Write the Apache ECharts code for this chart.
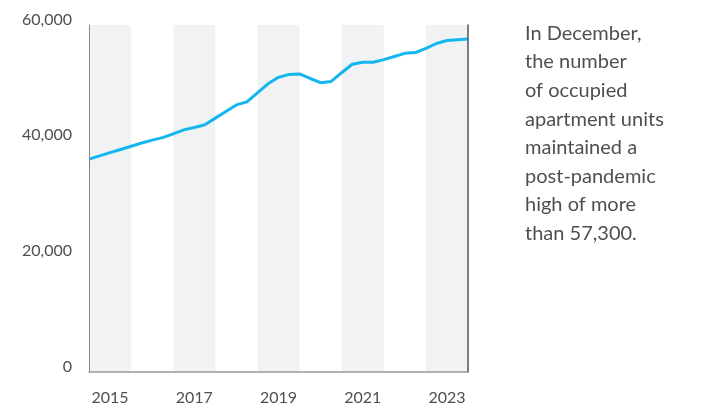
<!DOCTYPE html>
<html>
<head>
<meta charset="utf-8">
<script src="https://cdn.jsdelivr.net/npm/echarts@6/dist/echarts.min.js"></script>
<style>
html,body{margin:0;padding:0;background:#fff;}
#chart{width:707px;height:409px;}
</style>
</head>
<body>
<div id="chart"></div>
<script>
// Quarterly time positions (decimal years) and occupied apartment units
var quarters = [];
for (var i = 0; i <= 36; i++) quarters.push(2015 + i * 0.25);
var units = [36810, 37370, 37930, 38480, 39040, 39590, 40100, 40520, 41180, 41870,
  42270, 42750, 43900, 45060, 46180, 46700, 48270, 49830, 50950, 51460,
  51540, 50750, 50030, 50250, 51750, 53220, 53550, 53550, 54010, 54560,
  55100, 55230, 55970, 56800, 57310, 57450, 57580];
var shadedYears = [2015, 2017, 2019, 2021, 2023];
var yearLabels = [2015, 2017, 2019, 2021, 2023];
var noteLines = ["In December,", "the number", "of occupied", "apartment units",
  "maintained a", "post-pandemic", "high of more", "than 57,300."];

var FONT = "Lato";
var TXT = "#4f4f4f";

var lineData = quarters.map(function (q, k) { return [q, units[k]]; });
var bands = shadedYears.map(function (y) { return [{ xAxis: y }, { xAxis: y + 1 }]; });

var chart = echarts.init(document.getElementById('chart'), null, { renderer: 'canvas' });
chart.setOption({
  animation: false,
  backgroundColor: '#ffffff',
  textStyle: { fontFamily: FONT },
  grid: { left: 89, right: 239, top: 25, bottom: 37 },
  title: {
    text: noteLines.join('\n'),
    left: 525, top: 19, padding: 0,
    textStyle: { fontFamily: FONT, fontSize: 20, fontWeight: 'normal', color: TXT, lineHeight: 28.6 }
  },
  xAxis: {
    type: 'value', min: 2015, max: 2024, z: 10,
    splitLine: { show: false },
    axisTick: { show: false },
    axisLine: { show: true, lineStyle: { color: '#999999', width: 1.5 } },
    axisLabel: {
      customValues: yearLabels.map(function (y) { return y + 0.5; }),
      formatter: function (v) { return String(Math.floor(v)); },
      fontFamily: FONT, fontSize: 16, color: TXT, margin: 18
    }
  },
  yAxis: [{
    type: 'value', min: 0, max: 60000, interval: 20000, z: 10,
    splitLine: { show: false },
    axisTick: { show: false },
    axisLine: { show: true, lineStyle: { color: '#888888', width: 1 } },
    axisLabel: {
      formatter: function (v) { return v.toLocaleString('en-US'); },
      fontFamily: FONT, fontSize: 16, color: TXT, margin: 17,
      verticalAlign: 'bottom', lineHeight: 11
    }
  }, {
    type: 'value', min: 0, max: 60000, interval: 20000, position: 'right', z: 10,
    splitLine: { show: false },
    axisTick: { show: false },
    axisLabel: { show: false },
    axisLine: { show: true, lineStyle: { color: '#555555', width: 1.5 } }
  }],
  series: [{
    type: 'line', data: [], z: 1, silent: true,
    markArea: { silent: true, itemStyle: { color: '#f1f2f4' }, data: bands }
  }, {
    type: 'line', data: lineData, z: 3, symbol: 'none',
    lineStyle: { color: '#14b6ef', width: 3 },
    clip: false
  }]
});
</script>
</body>
</html>
